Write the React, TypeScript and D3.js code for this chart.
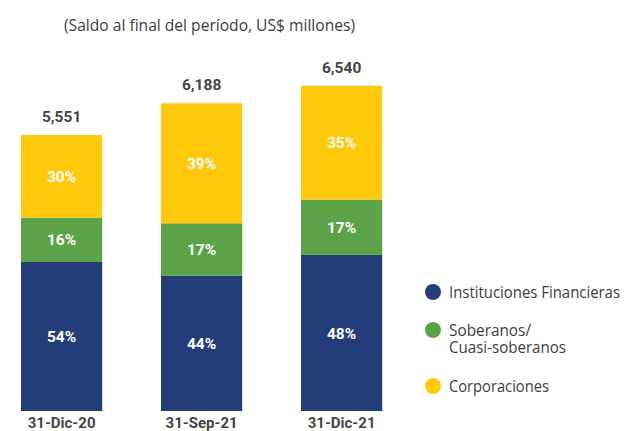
import React from "react";
import * as d3 from "d3";

const categories = ["31-Dic-20", "31-Sep-21", "31-Dic-21"];
const totals = [5551, 6188, 6540];
const seriesNames = ["Instituciones Financieras", "Soberanos/Cuasi-soberanos", "Corporaciones"];
const financieras = [54, 44, 48];
const soberanos = [16, 17, 17];
const corporaciones = [30, 39, 35];
const subtitle = "(Saldo al final del período, US$ millones)";

const colors = ["#223d77", "#5aa346", "#fec80b"];
const W = 628;
const H = 431;

export default function App() {
  const pcts = [financieras, soberanos, corporaciones];
  const x = d3
    .scaleBand<string>()
    .domain(categories)
    .range([-8.4, 411.6])
    .paddingInner(0.42)
    .paddingOuter(0.21);
  const y = d3.scaleLinear().domain([0, 8000]).range([411, 13.2]);

  const table = categories.map((c, i) => {
    const row: any = { cat: c, total: totals[i] };
    pcts.forEach((p, k) => {
      row["s" + k] = (p[i] / 100) * totals[i];
    });
    return row;
  });
  const stack = d3.stack<any>().keys(["s0", "s1", "s2"])(table);

  const boldFont = "Roboto, 'Open Sans', sans-serif";
  const lightFont = "'Open Sans', sans-serif";
  const legendY = [292, 330, 386];
  // narrow typeface emulation: fit each light text to its measured width
  const legendWidths: Record<string, number> = {
    "Instituciones Financieras": 171,
    "Soberanos/": 82,
    "Cuasi-soberanos": 117,
    Corporaciones: 100,
  };

  return (
    <svg
      width={W}
      height={H}
      style={{ position: "absolute", left: 0, top: 0, background: "#fff" }}
    >
      <text
        x={64}
        y={31}
        fontFamily={lightFont}
        fontSize={17}
        fill="#3d3d3d"
        textLength={291}
        lengthAdjust="spacingAndGlyphs"
      >
        {subtitle}
      </text>
      {stack.map((layer, k) => (
        <g key={k}>
          {layer.map((d, i) => {
            const y0 = y(d[0]);
            const y1 = y(d[1]);
            return (
              <g key={i}>
                <rect
                  x={x(categories[i])}
                  y={y1}
                  width={x.bandwidth()}
                  height={y0 - y1}
                  fill={colors[k]}
                />
                <text
                  x={(x(categories[i]) as number) + x.bandwidth() / 2}
                  y={(y0 + y1) / 2}
                  dy="0.36em"
                  textAnchor="middle"
                  fontFamily={boldFont}
                  fontWeight="bold"
                  fontSize={15.5}
                  fill="#ffffff"
                >
                  {pcts[k][i] + "%"}
                </text>
              </g>
            );
          })}
        </g>
      ))}
      {categories.map((c, i) => (
        <g key={c}>
          <text
            x={(x(c) as number) + x.bandwidth() / 2}
            y={y(totals[i]) - 13}
            textAnchor="middle"
            fontFamily={boldFont}
            fontWeight="bold"
            fontSize={15.5}
            fill="#444444"
          >
            {d3.format(",")(totals[i])}
          </text>
          <text
            x={(x(c) as number) + x.bandwidth() / 2}
            y={427.5}
            textAnchor="middle"
            fontFamily={boldFont}
            fontWeight="bold"
            fontSize={15}
            fill="#444444"
          >
            {c}
          </text>
        </g>
      ))}
      {seriesNames.map((name, k) => {
        const lines = name === "Soberanos/Cuasi-soberanos" ? ["Soberanos/", "Cuasi-soberanos"] : [name];
        return (
          <g key={name}>
            <circle cx={433} cy={legendY[k]} r={8} fill={colors[k]} />
            {lines.map((ln, j) => (
              <text
                key={j}
                x={449}
                y={legendY[k] + j * 17.5}
                dy="0.36em"
                fontFamily={lightFont}
                fontSize={16}
                fill="#3d3d3d"
                textLength={legendWidths[ln]}
                lengthAdjust="spacingAndGlyphs"
              >
                {ln}
              </text>
            ))}
          </g>
        );
      })}
    </svg>
  );
}
